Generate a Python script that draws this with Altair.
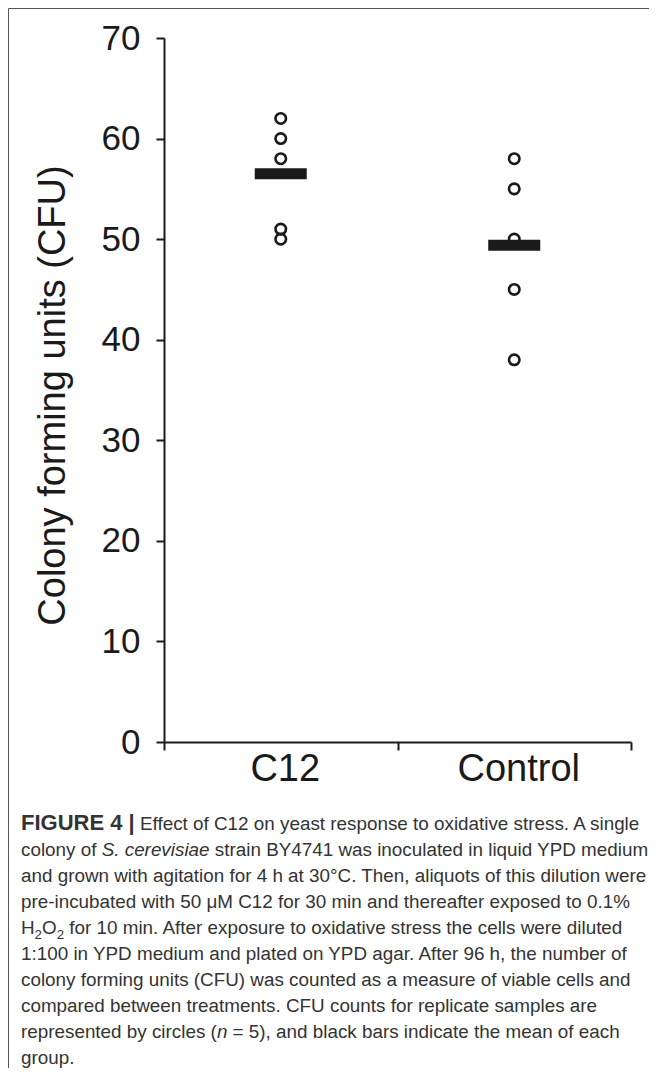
import altair as alt
import pandas as pd

# ---------------- data ----------------
groups = ["C12", "Control"]
c12_cfu = [62, 60, 58, 51, 50]
control_cfu = [58, 55, 50, 45, 38]
mean_cfu = [56.5, 49.4]
y_ticks = [0, 10, 20, 30, 40, 50, 60, 70]
y_title = "Colony forming units (CFU)"

caption_lines = [
    [("FIGURE 4 |", "bold"), (" Effect of C12 on yeast response to oxidative stress. A single", "normal")],
    [("colony of ", "normal"), ("S. cerevisiae", "italic"), (" strain BY4741 was inoculated in liquid YPD medium", "normal")],
    [("and grown with agitation for 4 h at 30°C. Then, aliquots of this dilution were", "normal")],
    [("pre-incubated with 50 μM C12 for 30 min and thereafter exposed to 0.1%", "normal")],
    [("H", "normal"), ("2", "sub"), ("O", "normal"), ("2", "sub"),
     (" for 10 min. After exposure to oxidative stress the cells were diluted", "normal")],
    [("1:100 in YPD medium and plated on YPD agar. After 96 h, the number of", "normal")],
    [("colony forming units (CFU) was counted as a measure of viable cells and", "normal")],
    [("compared between treatments. CFU counts for replicate samples are", "normal")],
    [("represented by circles (", "normal"), ("n", "italic"), (" = 5), and black bars indicate the mean of each", "normal")],
    [("group.", "normal")],
]

points = pd.DataFrame({
    "group": ["C12"] * len(c12_cfu) + ["Control"] * len(control_cfu),
    "cfu": c12_cfu + control_cfu,
})
means = pd.DataFrame({"group": groups, "cfu": mean_cfu})

# ---------------- layout ----------------
W, H = 467, 704
PAD = {"left": 156, "top": 30, "right": 18, "bottom": 1060 - 30 - 704}
INK = "#1a1a1a"
CAP_COLOR = "#333333"
CAP_FONT = "Liberation Sans"
CAP_SIZE = 18.85
BOLD_SIZE = 22
SUB_SIZE = 13.3

# Arial / Liberation Sans advance widths (1/1000 em) for placing caption segments
REG = {}
for ch, w in zip("abcdefghijklmnopqrstuvwxyz",
                 [556, 556, 500, 556, 556, 278, 556, 556, 222, 222, 500, 222, 833,
                  556, 556, 556, 556, 333, 500, 278, 556, 500, 722, 500, 500, 500]):
    REG[ch] = w
for ch, w in zip("ABCDEFGHIJKLMNOPQRSTUVWXYZ",
                 [667, 667, 722, 722, 667, 611, 778, 722, 278, 500, 667, 556, 833,
                  722, 778, 667, 778, 722, 667, 611, 722, 667, 944, 667, 667, 611]):
    REG[ch] = w
for ch in "0123456789":
    REG[ch] = 556
for ch in " .,:;":
    REG[ch] = 278
REG.update({"(": 333, ")": 333, "=": 584, "%": 889, "-": 333, "°": 400, "μ": 576, "|": 260})
BOLD = dict(REG)
BOLD.update({"A": 722, "B": 722, "C": 722, "D": 722, "R": 722, "U": 722, "|": 280})


def text_width(s, size, bold=False):
    table = BOLD if bold else REG
    return sum(table.get(ch, 556) for ch in s) / 1000.0 * size


one = alt.Data(values=[{"k": 0}])

x_axis = alt.Axis(
    title=None, labelAngle=0, tickBand="extent", labelFont="Liberation Sans",
    labelFontSize=38, labelColor=INK, labelPadding=0, labelOffset=4,
    tickSize=8, tickWidth=2, tickColor=INK, domainWidth=2, domainColor=INK,
    grid=False,
)
y_axis = alt.Axis(
    values=y_ticks, title=y_title, labelFont="Liberation Sans",
    labelFontSize=35, labelColor=INK, labelPadding=16, tickSize=8, tickWidth=2,
    tickColor=INK, domainWidth=2, domainColor=INK, grid=False,
    titleFont="Liberation Sans", titleFontSize=38, titleFontWeight="normal",
    titleColor=INK, titleX=-100, titleY=357, titleAngle=270,
    titleAlign="center", titleBaseline="alphabetic",
)
x_enc = alt.X("group:N", scale=alt.Scale(type="band", domain=groups, paddingInner=0, paddingOuter=0),
              axis=x_axis)
y_enc = alt.Y("cfu:Q", scale=alt.Scale(domain=[0, 70], nice=False), axis=y_axis)

pts = alt.Chart(points).mark_point(
    shape="circle", size=110, filled=False, stroke=INK, strokeWidth=2.6, opacity=1
).encode(x=x_enc, y=y_enc)

bars = alt.Chart(means).mark_tick(
    size=52, thickness=11, color=INK, opacity=1
).encode(x=x_enc, y=y_enc)

# frame lines of the figure box
frame_top = alt.Chart(one).mark_rule(color="#555555", strokeWidth=1).encode(
    x=alt.value(-155.5), x2=alt.value(W + 40), y=alt.value(-29.5))
frame_left = alt.Chart(one).mark_rule(color="#555555", strokeWidth=1).encode(
    x=alt.value(-155.5), y=alt.value(-29.5), y2=alt.value(1100))

# caption segments
caption_layers = []
x0 = 21 - 164
y0 = 830 - 38
line_gap = 26.0
for i, segs in enumerate(caption_lines):
    cursor = x0
    base = y0 + i * line_gap
    for seg, style in segs:
        if style == "sub":
            size = SUB_SIZE
        elif style == "bold":
            size = BOLD_SIZE
        else:
            size = CAP_SIZE
        bold = style == "bold"
        lead = len(seg) - len(seg.lstrip(" "))
        shown = seg.strip(" ")
        px = cursor + text_width(" " * lead, size, bold)
        py = base + (5 if style == "sub" else 0)
        caption_layers.append(
            alt.Chart(one).mark_text(
                text=shown, align="left", baseline="alphabetic", font=CAP_FONT,
                fontSize=size, fontWeight="bold" if bold else "normal",
                fontStyle="italic" if style == "italic" else "normal", color=CAP_COLOR,
            ).encode(x=alt.value(px), y=alt.value(py))
        )
        cursor += text_width(seg, size, bold)

chart = alt.layer(pts, bars, frame_top, frame_left, *caption_layers).properties(
    width=W, height=H,
    autosize=alt.AutoSizeParams(type="none"),
    padding=PAD,
).configure_view(stroke=None)

chart.save("out.html", embed_options={"renderer": "svg", "actions": False})
